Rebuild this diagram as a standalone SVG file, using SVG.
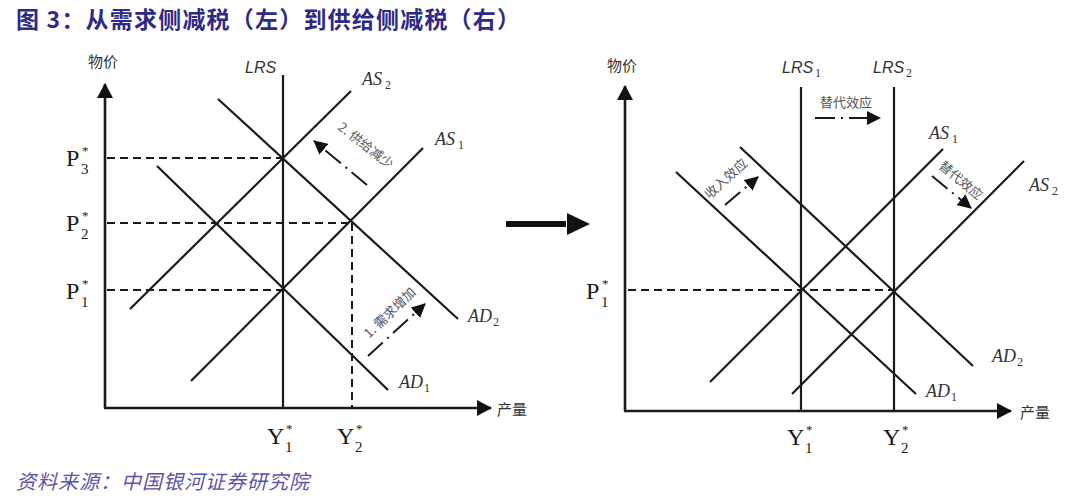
<svg xmlns="http://www.w3.org/2000/svg" width="1080" height="501" viewBox="0 0 1080 501">
  <style>
    .ln { stroke: #1a1a1a; stroke-width: 2.2; fill: none; stroke-linecap: butt; }
    .ax { stroke: #1a1a1a; stroke-width: 2.6; fill: none; }
    .dash { stroke: #1a1a1a; stroke-width: 2; fill: none; stroke-dasharray: 8 5; }
    .dd { stroke: #1a1a1a; stroke-width: 2; fill: none; stroke-dasharray: 20 6 2 6; }
    .cv { font-family: "Liberation Serif", serif; font-style: italic; font-size: 18px; fill: #333; }
    .cvs { font-family: "Liberation Serif", serif; font-size: 12px; fill: #333; }
    .lrs { font-family: "Liberation Sans", sans-serif; font-style: italic; font-size: 16px; fill: #333; }
    .pv { font-family: "Liberation Serif", serif; font-size: 24px; fill: #1a1a1a; }
    .ps { font-family: "Liberation Serif", serif; font-size: 15px; fill: #1a1a1a; }
    .pst { font-family: "Liberation Serif", serif; font-size: 13px; fill: #1a1a1a; }
    .cn { font-family: "Noto Sans CJK SC", sans-serif; font-size: 15px; fill: #333; }
    .cnsm { font-family: "Noto Sans CJK SC", sans-serif; font-size: 13px; fill: #555; }
    .title { font-family: "Noto Sans CJK SC", sans-serif; font-weight: bold; font-size: 23px; letter-spacing: 1.2px; fill: #2e2a85; }
    .foot { font-family: "Noto Sans CJK SC", sans-serif; font-style: italic; font-size: 20px; letter-spacing: 1px; fill: #5a55a5; }
  </style>
  <defs>
    <marker id="axisHead" markerUnits="userSpaceOnUse" markerWidth="16" markerHeight="16" refX="14" refY="8" orient="auto">
      <path d="M0,0 L15,8 L0,16 z" fill="#111"/>
    </marker>
    <marker id="smallHead" markerUnits="userSpaceOnUse" markerWidth="14" markerHeight="14" refX="13" refY="7" orient="auto">
      <path d="M0,0 L14,7 L0,14 z" fill="#111"/>
    </marker>
  </defs>
  <rect width="1080" height="501" fill="#ffffff"/>

  <g id="title">
    <text class="title" x="16" y="28">图 3：从需求侧减税（左）到供给侧减税（右）</text>
  </g>

  <!-- LEFT CHART -->
  <g id="left-axes">
    <line class="ax" x1="105" y1="408" x2="105" y2="84" marker-end="url(#axisHead)"/>
    <line class="ax" x1="104" y1="408" x2="491" y2="408" marker-end="url(#axisHead)"/>
    <text class="cn" x="88" y="67">物价</text>
    <text class="cn" x="497" y="415">产量</text>
  </g>
  <g id="left-connectors">
    <line class="dash" x1="107" y1="158" x2="283" y2="158"/>
    <line class="dash" x1="107" y1="223" x2="351" y2="223"/>
    <line class="dash" x1="107" y1="290" x2="283" y2="290"/>
    <line class="dash" x1="352" y1="223" x2="352" y2="408"/>
  </g>
  <g id="left-LRS">
    <line class="ln" x1="283" y1="75" x2="283" y2="408"/>
    <text class="lrs" x="245" y="73">LRS</text>
  </g>
  <g id="left-AS2">
    <line class="ln" x1="351" y1="91" x2="130" y2="309"/>
    <text class="cv" x="362" y="85">AS</text><text class="cvs" x="385" y="89">2</text>
  </g>
  <g id="left-AS1">
    <line class="ln" x1="423" y1="148" x2="191" y2="381"/>
    <text class="cv" x="435" y="145">AS</text><text class="cvs" x="458" y="149">1</text>
  </g>
  <g id="left-AD2">
    <line class="ln" x1="218" y1="99" x2="458" y2="319"/>
    <text class="cv" x="468" y="322">AD</text><text class="cvs" x="493" y="326">2</text>
  </g>
  <g id="left-AD1">
    <line class="ln" x1="157" y1="166" x2="388" y2="390"/>
    <text class="cv" x="399" y="388">AD</text><text class="cvs" x="424" y="392">1</text>
  </g>
  <g id="left-P-labels">
    <text class="pv" x="66" y="166">P</text><text class="ps" x="81" y="174">3</text><text class="pst" x="82" y="155">*</text>
    <text class="pv" x="66" y="231">P</text><text class="ps" x="81" y="239">2</text><text class="pst" x="82" y="220">*</text>
    <text class="pv" x="66" y="299">P</text><text class="ps" x="81" y="307">1</text><text class="pst" x="82" y="288">*</text>
    <text class="pv" x="267" y="444">Y</text><text class="ps" x="285" y="452">1</text><text class="pst" x="286" y="433">*</text>
    <text class="pv" x="337" y="444">Y</text><text class="ps" x="355" y="452">2</text><text class="pst" x="356" y="433">*</text>
  </g>
  <g id="left-shift-arrows">
    <line class="dd" x1="367" y1="185" x2="314" y2="141" marker-end="url(#smallHead)"/>
    <text class="cnsm" transform="translate(363,149) rotate(38)" text-anchor="middle">2. 供给减少</text>
    <line class="dd" x1="368" y1="356" x2="425" y2="304" marker-end="url(#smallHead)"/>
    <text class="cnsm" transform="translate(393,316) rotate(-44)" text-anchor="middle">1. 需求增加</text>
  </g>

  <!-- MIDDLE ARROW -->
  <g id="middle-arrow">
    <line x1="506" y1="224" x2="566" y2="224" stroke="#111" stroke-width="6"/>
    <path d="M567,213 L590,224 L567,235 z" fill="#111"/>
  </g>

  <!-- RIGHT CHART -->
  <g id="right-axes">
    <line class="ax" x1="625" y1="411" x2="625" y2="86" marker-end="url(#axisHead)"/>
    <line class="ax" x1="624" y1="411" x2="1011" y2="411" marker-end="url(#axisHead)"/>
    <text class="cn" x="607" y="71">物价</text>
    <text class="cn" x="1020" y="418">产量</text>
  </g>
  <g id="right-connectors">
    <line class="dash" x1="628" y1="290" x2="894" y2="290"/>
  </g>
  <g id="right-LRS1">
    <line class="ln" x1="801" y1="87" x2="801" y2="411"/>
    <text class="lrs" x="782" y="73">LRS</text><text class="cvs" x="815" y="77">1</text>
  </g>
  <g id="right-LRS2">
    <line class="ln" x1="894" y1="87" x2="894" y2="411"/>
    <text class="lrs" x="873" y="73">LRS</text><text class="cvs" x="906" y="77">2</text>
  </g>
  <g id="right-AD1">
    <line class="ln" x1="676" y1="172" x2="916" y2="394"/>
    <text class="cv" x="926" y="397">AD</text><text class="cvs" x="951" y="401">1</text>
  </g>
  <g id="right-AD2">
    <line class="ln" x1="740" y1="147" x2="973" y2="366"/>
    <text class="cv" x="992" y="362">AD</text><text class="cvs" x="1017" y="366">2</text>
  </g>
  <g id="right-AS1">
    <line class="ln" x1="943" y1="149" x2="710" y2="382"/>
    <text class="cv" x="929" y="139">AS</text><text class="cvs" x="952" y="143">1</text>
  </g>
  <g id="right-AS2">
    <line class="ln" x1="1024" y1="161" x2="792" y2="394"/>
    <text class="cv" x="1029" y="191">AS</text><text class="cvs" x="1052" y="195">2</text>
  </g>
  <g id="right-P-labels">
    <text class="pv" x="586" y="299">P</text><text class="ps" x="601" y="307">1</text><text class="pst" x="602" y="288">*</text>
    <text class="pv" x="787" y="445">Y</text><text class="ps" x="805" y="453">1</text><text class="pst" x="806" y="434">*</text>
    <text class="pv" x="883" y="445">Y</text><text class="ps" x="901" y="453">2</text><text class="pst" x="902" y="434">*</text>
  </g>
  <g id="right-shift-arrows">
    <text class="cnsm" x="846" y="107" text-anchor="middle">替代效应</text>
    <line class="dd" x1="815" y1="118" x2="880" y2="118" marker-end="url(#smallHead)"/>
    <text class="cnsm" transform="translate(729,182) rotate(-42)" text-anchor="middle">收入效应</text>
    <line class="dd" x1="725" y1="205" x2="758" y2="177" marker-end="url(#smallHead)"/>
    <text class="cnsm" transform="translate(958,184) rotate(40)" text-anchor="middle">替代效应</text>
    <line class="dd" x1="932" y1="176" x2="971" y2="208" marker-end="url(#smallHead)"/>
  </g>

  <g id="footer">
    <text class="foot" x="16" y="489">资料来源：中国银河证券研究院</text>
  </g>
</svg>
